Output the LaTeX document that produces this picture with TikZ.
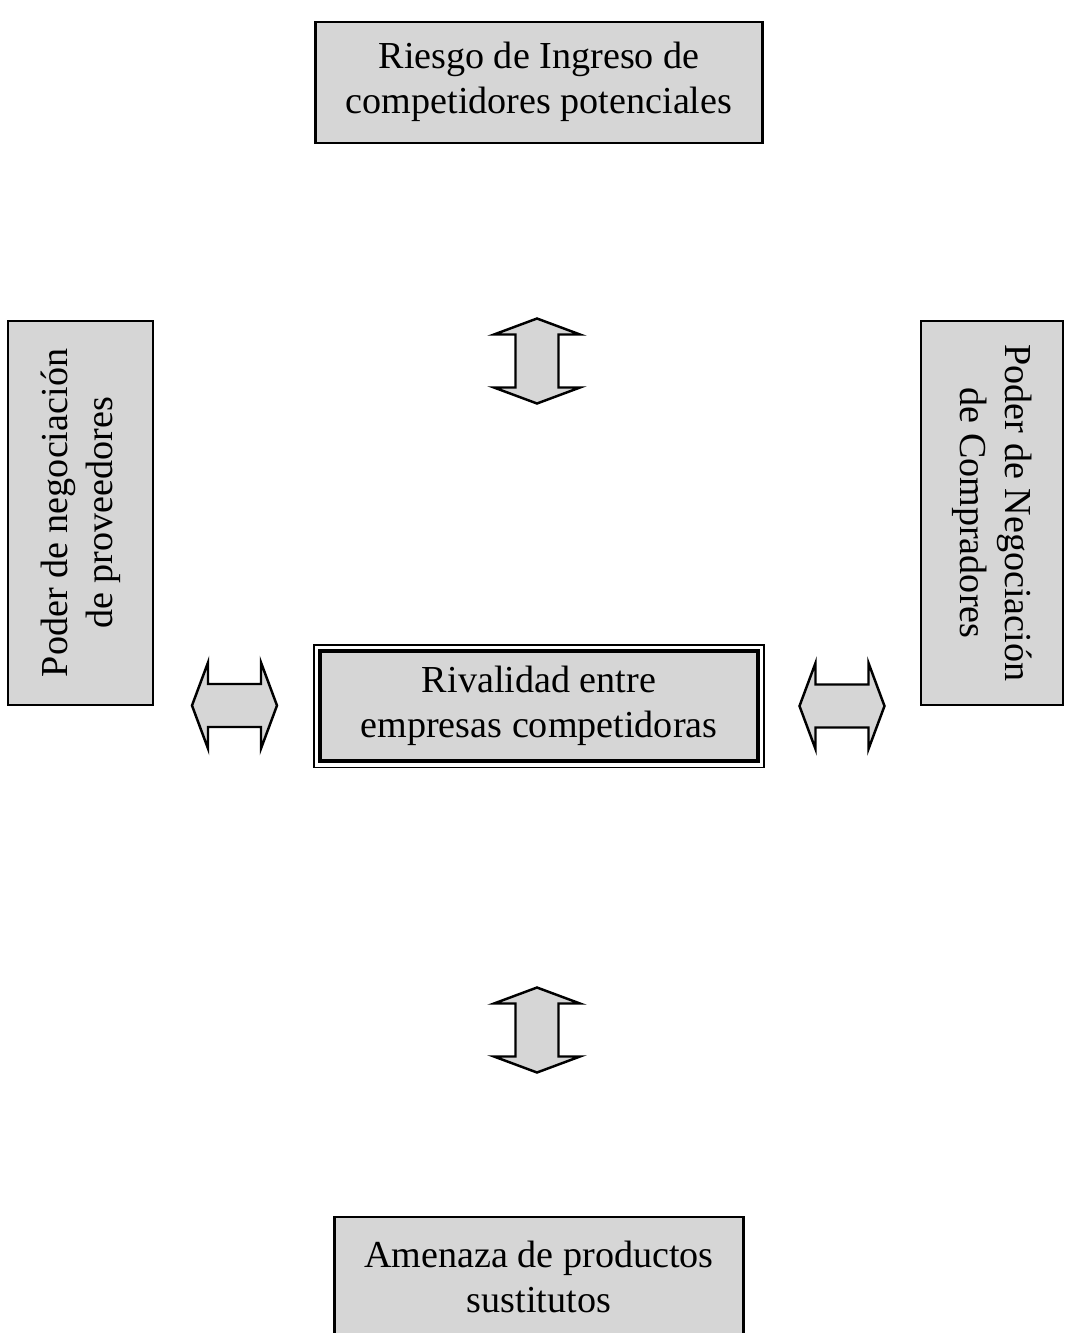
\documentclass[tikz,border=0pt]{standalone}
\usepackage{fontspec}
\setmainfont{Liberation Serif}
\usetikzlibrary{shapes,arrows,positioning,shapes.geometric}

\tikzset{
  force/.style={draw, line width=1.2pt, fill=gray!32, align=center, inner sep=2pt, font=\fontsize{21.7}{25.6}\selectfont},
  arrowbody/.style={draw, line width=1.4pt, fill=gray!32, line join=miter},
  twoway/.pic={
    \draw[arrowbody] (-0.85,0) -- (-0.53,0.86) -- (-0.53,0.43) -- (0.53,0.43) -- (0.53,0.86) -- (0.85,0)
      -- (0.53,-0.86) -- (0.53,-0.43) -- (-0.53,-0.43) -- (-0.53,-0.86) -- cycle;
  },
}

\begin{document}
\begin{tikzpicture}
    \useasboundingbox (0,0) rectangle (21.3,-26.66);
    % Nodes
    \node[force, line width=2.5pt, minimum width=8.76cm, minimum height=2.2cm] (rival) at (10.78,-14.12) {Rivalidad entre\\empresas competidoras};
    \node[force, minimum width=8.94cm, minimum height=2.42cm, above=10.1cm of rival] (entrants) {Riesgo de Ingreso de\\competidores potenciales};
    \node[force, minimum width=8.18cm, minimum height=2.42cm, below=9.05cm of rival] (substitutes) {Amenaza de productos\\sustitutos};
    \node[force, rotate=90, minimum width=7.68cm, minimum height=2.9cm] (suppliers) at (1.61,-10.26) {Poder de negociación\\de proveedores};
    \node[force, rotate=-90, minimum width=7.68cm, minimum height=2.84cm] (buyers) at (19.84,-10.26) {Poder de Negociación\\de Compradores};

    % Outer frame
    \draw[line width=0.8pt] ([shift={(-0.08,0.08)}]rival.north west) rectangle ([shift={(0.08,-0.08)}]rival.south east);

    % Arrows
    \pic[rotate=90] (entryarrow) at (10.74,-7.22) {twoway};
    \pic[rotate=90] (substarrow) at (10.74,-20.6) {twoway};
    \pic (supparrow) at (4.69,-14.11) {twoway};
    \pic (buyarrow) at (16.84,-14.12) {twoway};
\end{tikzpicture}
\end{document}
